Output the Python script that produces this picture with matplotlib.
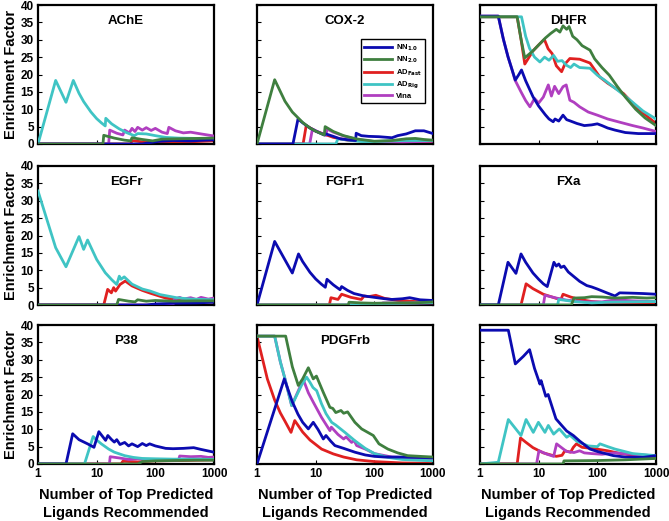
import matplotlib
matplotlib.use('Agg')
import matplotlib.pyplot as plt

plt.rcParams['font.family'] = ['Liberation Sans', 'DejaVu Sans']
plt.rcParams['font.weight'] = 'bold'
plt.rcParams['mathtext.default'] = 'bf'

# series labels and colours
SERIES = ['NN$_{1.0}$', 'NN$_{2.0}$', 'AD$_{Fast}$', 'AD$_{Rig}$', 'Vina']
COLORS = ['#0b0bb0', '#3f7f3f', '#e02020', '#3fc4c4', '#b03fc0']
TARGETS = ['AChE', 'COX-2', 'DHFR', 'EGFr', 'FGFr1', 'FXa', 'P38', 'PDGFrb', 'SRC']
X_TICKS = [1, 10, 100, 1000]
Y_TICKS = [0, 5, 10, 15, 20, 25, 30, 35, 40]

# (rank, enrichment factor)
ACHE_NN1 = [(1, 0), (60, 0), (80, 0.4), (120, 0.8), (200, 1.0), (400, 0.9), (700, 1.1), (1000, 1.2)]
ACHE_NN2 = [(1, 0), (12.8, 0), (13.2, 2.5), (20, 1.7), (30, 1.1), (38, 0.9), (40, 1.8), (60, 1.3),
            (90, 0.9), (130, 1.4), (250, 1.5), (500, 1.6), (1000, 1.7)]
ACHE_ADF = [(1, 0), (38, 0), (40, 1.0), (60, 0.6), (100, 0.3), (200, 0.5), (500, 0.7), (1000, 0.9)]
ACHE_ADR = [(1, 0), (2, 18.3), (3, 12.0), (4, 18.3), (5, 14.6), (6, 12.2), (8, 9.2), (10, 7.3),
            (12, 6.1), (14, 5.2), (14.3, 7.4), (18, 5.8), (24, 4.4), (32, 3.3), (44, 2.4), (50, 3.0),
            (70, 2.9), (100, 2.4), (150, 1.9), (250, 1.7), (500, 1.6), (1000, 1.4)]
ACHE_VINA = [(1, 0), (16, 0), (16.7, 4.0), (22, 3.1), (28, 2.6), (30, 4.0), (36, 3.2), (40, 4.5),
             (45, 3.6), (50, 4.8), (60, 4.0), (70, 4.7), (85, 3.9), (100, 4.5), (130, 3.4), (160, 3.0),
             (170, 4.8), (220, 3.8), (300, 3.2), (400, 3.4), (600, 2.9), (1000, 2.3)]

COX_NN1 = [(1, 0), (4.1, 0), (5, 7.2), (6, 6.1), (8, 4.6), (10, 3.7), (14, 2.6), (15, 2.9), (20, 2.2),
           (26, 1.5), (40, 1.1), (48, 1.0), (49, 3.1), (60, 2.4), (80, 2.2), (120, 2.1), (200, 1.8),
           (250, 2.4), (350, 2.9), (500, 3.8), (700, 3.8), (1000, 3.0)]
COX_NN2 = [(1, 0), (2, 18.5), (3, 12.3), (4, 9.2), (6, 6.2), (8, 4.6), (10, 3.7), (14, 2.6), (14.5, 5.0),
           (20, 3.6), (30, 2.4), (50, 1.45), (100, 0.8), (200, 1.0), (350, 1.5), (500, 1.6), (700, 1.3),
           (1000, 1.1)]
COX_ADF = [(1, 0), (6.1, 0), (6.9, 5.3), (10, 3.7), (20, 1.9), (35, 1.1), (60, 0.9), (100, 0.6),
           (200, 0.3), (1000, 0.3)]
COX_ADR = [(1, 0), (22, 0), (24, 1.5), (36, 1.1), (60, 0.7), (100, 0.7), (300, 1.0), (1000, 1.0)]
COX_VINA = [(1, 0), (7.9, 0), (8.8, 4.3), (12, 3.2), (15, 2.5), (15.6, 4.3), (20, 3.4), (30, 2.3),
            (50, 1.3), (100, 0.7), (300, 0.6), (1000, 0.8)]

DHFR_NN1 = [(1, 36.8), (2.05, 36.8), (2.5, 30.2), (3, 25.1), (3.5, 21.5), (4, 18.4), (4.6, 20.0),
            (5.1, 21.3), (6, 18.2), (8, 13.6), (10, 10.9), (13, 8.4), (15, 7.2), (17.7, 6.4), (19, 7.2),
            (22, 6.6), (26, 8.3), (30, 7.0), (35, 6.6), (45, 5.9), (60, 5.3), (80, 5.5), (100, 5.8),
            (120, 5.3), (150, 4.6), (200, 4.0), (300, 3.3), (500, 3.0), (1000, 3.0)]
DHFR_NN2 = [(1, 36.6), (4.3, 36.6), (5, 30.2), (5.8, 24.8), (8, 26.8), (10, 28.5), (13, 30.5), (16, 31.8),
            (20, 33.0), (23, 32.2), (26, 34.0), (30, 33.0), (33, 33.8), (38, 31.0), (45, 30.0), (55, 28.3),
            (75, 27.0), (90, 24.5), (120, 22.0), (160, 19.8), (220, 16.5), (300, 13.5), (450, 10.0),
            (650, 7.5), (1000, 5.3)]
DHFR_ADF = [(1, 36.6), (4.3, 36.6), (5, 30.2), (5.8, 23.0), (8, 26.8), (10, 28.5), (12.5, 30.1),
            (14.5, 27.4), (17, 26.0), (20, 22.5), (24.6, 20.8), (28, 23.0), (34, 24.6), (50, 24.4),
            (75, 23.3), (110, 19.3), (150, 17.5), (280, 14.5), (500, 10.0), (1000, 5.9)]
DHFR_ADR = [(1, 36.6), (5.1, 36.6), (6, 31.0), (7, 27.5), (8.5, 25.0), (10.5, 23.6), (12.6, 25.0),
            (15, 24.1), (18, 25.5), (21, 23.8), (25, 24.0), (29.5, 22.7), (35, 22.0), (40, 23.0), (50, 22.0),
            (75, 21.8), (100, 19.8), (130, 18.5), (170, 17.0), (250, 14.8), (400, 12.0), (600, 9.5),
            (1000, 7.2)]
DHFR_VINA = [(1, 36.8), (2.05, 36.8), (2.5, 30.2), (3, 25.1), (3.5, 21.5), (3.95, 18.4), (5, 15.0),
             (6, 12.5), (7.1, 10.7), (8.5, 13.1), (10, 11.8), (12, 13.5), (14.6, 17.0), (16.5, 13.8),
             (18.7, 16.6), (22, 14.5), (26, 16.5), (29.5, 17.0), (34, 12.6), (40, 12.0), (50, 10.7),
             (70, 9.2), (100, 8.3), (150, 7.2), (250, 6.2), (400, 5.3), (600, 4.6), (1000, 3.6)]

EGFR_NN1 = [(1, 0), (70, 0), (100, 0.3), (200, 0.5), (500, 0.6), (1000, 0.8)]
EGFR_NN2 = [(1, 0), (22, 0), (23.6, 1.6), (35, 1.1), (45, 0.9), (50, 1.5), (70, 1.1), (100, 1.3),
            (200, 1.1), (500, 1.2), (1000, 1.2)]
EGFR_ADF = [(1, 0), (13.2, 0), (15.4, 4.5), (17.8, 3.5), (19.5, 5.0), (21, 4.0), (25, 5.9), (30.7, 6.9),
            (40, 5.5), (60, 4.2), (82, 3.4), (150, 2.0), (300, 1.2), (1000, 0.8)]
EGFR_ADR = [(1, 32.8), (2, 16.5), (3, 11.0), (5, 19.7), (6, 16.0), (7, 18.7), (10, 13.1), (14, 9.3),
            (18, 7.3), (22, 5.9), (24.3, 8.3), (26, 7.4), (29.5, 8.1), (40, 6.0), (60, 4.6), (82, 4.0),
            (120, 3.0), (160, 2.6), (230, 2.1), (400, 1.7), (1000, 1.5)]
EGFR_VINA = [(1, 0), (200, 0), (210, 1.6), (260, 2.2), (300, 1.7), (400, 2.1), (500, 1.6), (600, 2.2),
             (800, 1.7), (1000, 2.0)]

FGF_NN1 = [(1, 0), (2, 18.3), (4, 9.2), (5.1, 14.7), (6, 12.5), (8, 9.4), (10, 7.5), (12.5, 6.0),
           (14.6, 5.1), (15.6, 7.4), (20, 5.8), (26, 4.4), (27.7, 5.3), (35, 4.2), (45, 3.3), (67, 2.6),
           (100, 2.2), (150, 1.8), (200, 1.6), (300, 1.8), (400, 2.1), (600, 1.5), (1000, 1.3)]
FGF_NN2 = [(1, 0), (36, 0), (37, 0.8), (60, 0.6), (100, 0.5), (200, 0.6), (500, 0.6), (1000, 0.9)]
FGF_ADF = [(1, 0), (17.1, 0), (18.2, 2.1), (24, 1.6), (27.7, 3.1), (40, 2.2), (60, 1.6), (67, 2.6),
           (80, 2.4), (106, 2.8), (150, 1.9), (250, 1.3), (500, 1.0), (1000, 0.8)]
FGF_ADR = [(1, 0), (90, 0), (100, 0.4), (300, 0.5), (1000, 0.7)]
FGF_VINA = [(1, 0), (120, 0), (140, 0.6), (300, 0.5), (1000, 0.6)]

FXA_NN1 = [(1, 0), (2.05, 0), (3, 12.3), (4.1, 9.1), (5, 14.7), (6, 12.3), (8, 9.2), (10, 7.4),
           (12, 6.1), (14, 5.3), (18.2, 12.3), (20, 11.2), (22, 11.8), (24, 10.8), (27, 11.2), (32, 9.5),
           (39, 8.3), (50, 6.8), (66, 5.6), (80, 5.2), (100, 4.6), (150, 3.4), (200, 2.6), (240, 3.5),
           (400, 3.4), (600, 3.3), (1000, 3.1)]
FXA_NN2 = [(1, 0), (36, 0), (40, 2.0), (60, 2.1), (80, 2.4), (120, 2.3), (200, 2.0), (400, 2.2),
           (700, 2.0), (1000, 2.1)]
FXA_ADF = [(1, 0), (5, 0), (6.1, 6.1), (8, 4.7), (12, 3.1), (20, 1.9), (24, 1.6), (26, 3.1), (35, 2.3),
           (50, 1.6), (80, 1.0), (150, 0.6), (400, 0.4), (1000, 0.5)]
FXA_ADR = [(1, 0), (21, 0), (22, 1.6), (40, 1.0), (80, 0.6), (150, 0.8), (400, 0.9), (1000, 1.0)]
FXA_VINA = [(1, 0), (12, 0), (12.8, 2.8), (20, 2.0), (30, 1.4), (60, 0.9), (120, 0.9), (200, 1.5),
            (400, 1.2), (1000, 1.0)]

P38_NN1 = [(1, 0), (3, 0), (3.9, 8.7), (5, 7.0), (7, 5.8), (9, 4.8), (10.9, 9.3), (12.5, 8.0),
           (14.2, 6.8), (15.5, 8.2), (18, 7.0), (20, 6.3), (22, 7.0), (25, 5.6), (30, 6.2), (35, 5.2),
           (40, 5.8), (50, 5.0), (60, 5.9), (70, 5.3), (80, 5.8), (100, 5.2), (150, 4.5), (200, 4.4),
           (300, 4.5), (450, 4.7), (600, 4.2), (1000, 3.4)]
P38_NN2 = [(1, 0), (50, 0), (60, 0.7), (100, 0.9), (200, 1.0), (500, 1.1), (1000, 1.1)]
P38_ADF = [(1, 0), (26, 0), (28, 0.8), (50, 0.6), (100, 0.9), (300, 1.0), (1000, 1.2)]
P38_ADR = [(1, 0), (6.2, 0), (8.7, 7.9), (10, 6.9), (12, 5.8), (16, 4.3), (20, 3.4), (30, 2.4),
           (42, 1.9), (60, 1.6), (100, 1.5), (200, 1.4), (500, 1.4), (1000, 1.3)]
P38_VINA = [(1, 0), (16.5, 0), (17, 2.1), (25, 1.7), (35, 1.3), (50, 1.5), (80, 1.2), (150, 1.0),
            (250, 1.2), (260, 2.3), (400, 2.1), (600, 2.2), (800, 1.9), (1000, 2.0)]

PDG_NN1 = [(1, 0), (2.92, 24.5), (4, 17.9), (5, 14.3), (6, 12.0), (7.5, 10.1), (9.1, 12.0), (11, 9.9),
           (13.5, 7.2), (15, 8.2), (18, 6.6), (21.3, 5.3), (30, 4.5), (46.6, 3.4), (70, 2.6), (100, 2.2),
           (150, 2.0), (300, 2.0), (1000, 1.8)]
PDG_NN2 = [(1, 36.8), (3.08, 36.8), (4, 28.0), (5.06, 22.6), (6, 24.5), (7.5, 27.7), (9.1, 24.5),
           (10.3, 25.3), (13.5, 20.6), (17.5, 16.3), (19.6, 16.0), (22, 14.8), (27, 15.4), (30, 14.6),
           (35, 15.0), (46.6, 12.0), (60.7, 10.1), (96, 8.2), (120, 5.8), (170, 4.3), (250, 3.2),
           (370, 2.4), (600, 2.2), (1000, 2.0)]
PDG_ADF = [(1, 36.8), (1.5, 24.5), (2, 18.4), (2.5, 14.7), (3, 12.3), (3.8, 9.1), (4.4, 12.5),
           (6, 9.2), (8, 6.9), (12.6, 4.3), (20, 2.9), (30, 2.0), (50, 1.2), (100, 0.7), (300, 0.3),
           (1000, 0.2)]
PDG_ADR = [(1, 36.8), (2, 36.8), (2.5, 29.4), (3, 24.5), (3.9, 16.8), (5.8, 22.8), (7, 25.0), (8, 23.5),
           (9, 22.0), (10.4, 21.1), (12.6, 17.3), (15, 14.5), (18.7, 12.0), (22, 11.2), (31.5, 9.1),
           (46.6, 6.7), (70, 4.5), (100, 3.0), (170, 1.9), (300, 1.3), (1000, 0.9)]
PDG_VINA = [(1, 36.8), (2, 36.8), (2.5, 29.4), (3, 24.5), (3.9, 16.8), (6.15, 24.3), (7.5, 20.5),
            (9.1, 17.8), (12.6, 13.4), (17.5, 9.6), (18.5, 10.6), (24, 8.5), (30, 7.2), (33, 7.8),
            (41, 6.2), (45, 6.8), (50, 5.3), (70, 4.3), (100, 3.0), (200, 2.0), (1000, 1.5)]

SRC_NN1 = [(1, 38.5), (3.04, 38.5), (4, 28.8), (5.5, 31.0), (7, 32.9), (8.5, 27.5), (10.5, 23.0),
           (11, 24.0), (13.2, 19.5), (14.5, 20.0), (19.7, 13.0), (25, 11.0), (30, 9.5), (39, 8.2),
           (50, 6.6), (75, 4.3), (100, 3.6), (188, 2.4), (300, 2.0), (600, 1.9), (1000, 2.4)]
SRC_NN2 = [(1, 0), (26, 0), (27, 0.9), (100, 1.0), (300, 1.2), (1000, 1.6)]
SRC_ADF = [(1, 0), (4.3, 0), (4.9, 7.5), (6, 6.3), (8, 4.7), (12, 3.2), (17.8, 2.4), (20, 2.2),
           (25, 2.5), (28, 3.8), (35, 3.4), (39, 4.8), (44, 5.8), (55, 4.8), (70, 4.6), (98, 4.3),
           (150, 3.8), (250, 3.0), (500, 2.4), (1000, 1.9)]
SRC_ADR = [(1, 0), (2.05, 0.5), (3.04, 12.8), (5, 8.2), (6.1, 12.8), (8.1, 9.1), (9.9, 12.0),
           (12.8, 9.1), (14.6, 11.1), (18, 8.6), (22.5, 10.1), (30, 7.7), (34, 8.3), (45, 6.5),
           (70, 5.2), (100, 5.0), (111, 5.8), (150, 5.0), (200, 4.3), (400, 3.0), (1000, 2.4)]
SRC_VINA = [(1, 0), (9.2, 0), (10.1, 3.8), (14, 2.8), (18, 2.2), (20.2, 5.8), (25, 4.6), (30, 3.6),
            (40, 3.3), (50, 3.8), (60, 3.2), (80, 3.0), (120, 2.8), (200, 3.2), (400, 2.8), (600, 2.6),
            (1000, 2.3)]

PANELS = [
    [ACHE_NN1, ACHE_NN2, ACHE_ADF, ACHE_ADR, ACHE_VINA],
    [COX_NN1, COX_NN2, COX_ADF, COX_ADR, COX_VINA],
    [DHFR_NN1, DHFR_NN2, DHFR_ADF, DHFR_ADR, DHFR_VINA],
    [EGFR_NN1, EGFR_NN2, EGFR_ADF, EGFR_ADR, EGFR_VINA],
    [FGF_NN1, FGF_NN2, FGF_ADF, FGF_ADR, FGF_VINA],
    [FXA_NN1, FXA_NN2, FXA_ADF, FXA_ADR, FXA_VINA],
    [P38_NN1, P38_NN2, P38_ADF, P38_ADR, P38_VINA],
    [PDG_NN1, PDG_NN2, PDG_ADF, PDG_ADR, PDG_VINA],
    [SRC_NN1, SRC_NN2, SRC_ADF, SRC_ADR, SRC_VINA],
]

# drawing order (later = on top): red, magenta, cyan, blue, green
ZORD = [5, 6, 2, 4, 3]

fig = plt.figure(figsize=(6.69, 5.21), dpi=100)
W, H = 669.0, 521.0
lefts = [38, 257, 480]
tops = [5, 166, 325]
aw, ah = 176, 139

for i, (name, series) in enumerate(zip(TARGETS, PANELS)):
    r, c = divmod(i, 3)
    ax = fig.add_axes([lefts[c] / W, 1 - (tops[r] + ah) / H, aw / W, ah / H])
    for k, pts in enumerate(series):
        xs = [p[0] for p in pts]
        ys = [p[1] for p in pts]
        ax.plot(xs, ys, color=COLORS[k], lw=2.0, label=SERIES[k], zorder=ZORD[k], clip_on=True)
    ax.set_xscale('log')
    ax.set_xlim(1, 1000)
    ax.set_ylim(0, 40)
    ax.set_xticks(X_TICKS)
    ax.set_yticks(Y_TICKS)
    ax.minorticks_off()
    ax.tick_params(direction='in', length=3, width=0.8, labelsize=8.5, pad=3)
    if c == 0:
        ax.set_yticklabels([str(t) for t in Y_TICKS], fontweight='bold')
        ax.set_ylabel('Enrichment Factor', fontsize=10.5, fontweight='bold', labelpad=2)
    else:
        ax.set_yticklabels([])
    if r == 2:
        ax.set_xticklabels([str(t) for t in X_TICKS], fontweight='bold')
        ax.set_xlabel('Number of Top Predicted\nLigands Recommended', fontsize=10.5,
                      fontweight='bold', labelpad=6, linespacing=1.3)
    else:
        ax.set_xticklabels([])
    for s in ax.spines.values():
        s.set_linewidth(1.6)
    ax.text(0.5, 0.93, name, transform=ax.transAxes, ha='center', va='top',
            fontsize=9.5, fontweight='bold')
    if name == 'COX-2':
        leg = ax.legend(loc='upper right', bbox_to_anchor=(0.975, 0.78), fontsize=5.5,
                        handlelength=3.6, borderpad=0.4, labelspacing=0.25, fancybox=False,
                        framealpha=1, edgecolor='black', handletextpad=0.5)
        leg.get_frame().set_linewidth(1.0)
        for t in leg.get_texts():
            t.set_fontweight('bold')

fig.savefig('out.png', dpi=100)
